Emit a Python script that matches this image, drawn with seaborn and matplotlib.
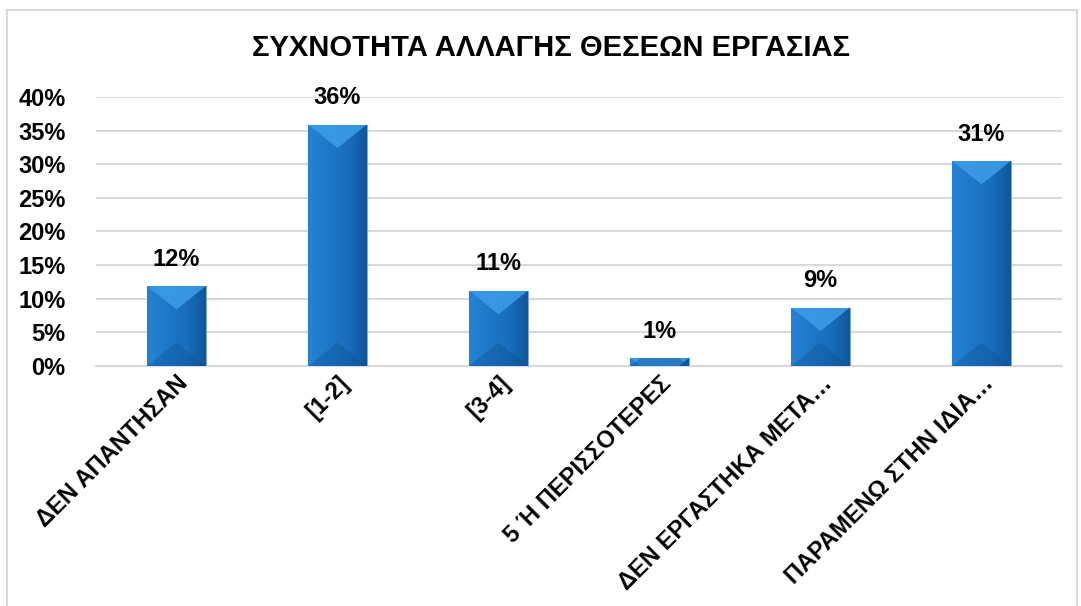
import numpy as np
import pandas as pd
import matplotlib
matplotlib.use("Agg")
import matplotlib.pyplot as plt
import matplotlib.patches as mpatches
from matplotlib.colors import LinearSegmentedColormap
from matplotlib.font_manager import FontProperties
import seaborn as sns

# data
categories = ["ΔΕΝ ΑΠΑΝΤΗΣΑΝ", "[1-2]", "[3-4]", "5 Ή ΠΕΡΙΣΣΟΤΕΡΕΣ",
              "ΔΕΝ ΕΡΓΑΣΤΗΚΑ ΜΕΤΑ…", "ΠΑΡΑΜΕΝΩ ΣΤΗΝ ΙΔΙΑ…"]
shares = [0.119, 0.359, 0.112, 0.012, 0.087, 0.305]
value_labels = ["12%", "36%", "11%", "1%", "9%", "31%"]
yticks = [0.0, 0.05, 0.10, 0.15, 0.20, 0.25, 0.30, 0.35, 0.40]
ytick_labels = ["0%", "5%", "10%", "15%", "20%", "25%", "30%", "35%", "40%"]

df = pd.DataFrame({"cat": categories, "share": shares})

sns.set_theme(style="white")
plt.rcParams['font.family'] = ['Liberation Sans', 'DejaVu Sans']
plt.rcParams['font.weight'] = 'bold'
plt.rcParams['text.color'] = 'black'
plt.rcParams['xtick.color'] = 'black'
plt.rcParams['ytick.color'] = 'black'

fp = FontProperties(family="Liberation Sans", weight="bold", size=17)
fp_title = FontProperties(family="Liberation Sans", weight="bold", size=21)

fig = plt.figure(figsize=(10.81, 6.06), dpi=100)
ax = fig.add_axes([0.0888, 0.396, 0.8936, 0.444])

sns.barplot(data=df, x="cat", y="share", color="#1f78c8", width=0.365,
            saturation=1, ax=ax, zorder=3)

# fake the bevelled look: horizontal shading clipped to each bar
shade = LinearSegmentedColormap.from_list(
    "shade", ["#2683d3", "#1d78c8", "#196ebd", "#0e589c"])
grad = np.linspace(0, 1, 64).reshape(1, -1)
depth = 0.035
for p in ax.patches:
    x0, y0 = p.get_x(), p.get_y()
    w, h = p.get_width(), p.get_height()
    im = ax.imshow(grad, cmap=shade, extent=[x0, x0 + w, y0, y0 + h],
                   aspect="auto", zorder=4)
    im.set_clip_path(p)
    top = mpatches.Polygon([[x0, y0 + h], [x0 + w, y0 + h],
                            [x0 + w * 0.5, y0 + h - depth]],
                           closed=True, facecolor="#3c9ae6", edgecolor="none",
                           alpha=0.9, zorder=5)
    ax.add_patch(top)
    top.set_clip_path(p)
    bot = mpatches.Polygon([[x0, y0], [x0 + w, y0],
                            [x0 + w * 0.5, y0 + depth]],
                           closed=True, facecolor="#0d4f8f", edgecolor="none",
                           alpha=0.35, zorder=5)
    ax.add_patch(bot)
    bot.set_clip_path(p)
    p.set_edgecolor("#8aa6c2")
    p.set_linewidth(0.8)

ax.set_xlim(-0.5, len(categories) - 0.5)
ax.set_ylim(0, 0.40)
ax.set_yticks(yticks)
ax.set_yticklabels(ytick_labels)
for t in ax.get_yticklabels():
    t.set_fontproperties(fp)
    t.set_color("black")
ax.grid(axis="y", color="#d9d9d9", linewidth=1.5, zorder=0)
ax.set_axisbelow(True)
for s in ["top", "right", "left"]:
    ax.spines[s].set_visible(False)
ax.spines["bottom"].set_color("#d9d9d9")
ax.spines["bottom"].set_linewidth(1.5)
ax.tick_params(axis="y", length=0, pad=22)
ax.tick_params(axis="x", length=0, pad=4)
ax.set_xticks(range(len(categories)))
ax.set_xticklabels(categories, rotation=45, ha="right",
                   rotation_mode="anchor")
for t in ax.get_xticklabels():
    t.set_fontproperties(fp)
    t.set_color("black")
ax.set_xlabel("")
ax.set_ylabel("")

for i, (v, lab) in enumerate(zip(shares, value_labels)):
    ax.annotate(lab, (i, v), xytext=(0, 11), textcoords="offset points",
                ha="center", va="bottom", fontproperties=fp,
                color="black", zorder=6)

fig.text(0.51, 0.92, "ΣΥΧΝΟΤΗΤΑ ΑΛΛΑΓΗΣ ΘΕΣΕΩΝ ΕΡΓΑΣΙΑΣ", ha="center",
         va="center", fontproperties=fp_title, color="black")

# chart area frame
fig.patches.append(mpatches.Rectangle((0.0065, -0.01), 0.99, 0.993,
                                      transform=fig.transFigure, fill=False,
                                      edgecolor="#d9d9d9", linewidth=1.5))

fig.savefig("out.png", dpi=100)
